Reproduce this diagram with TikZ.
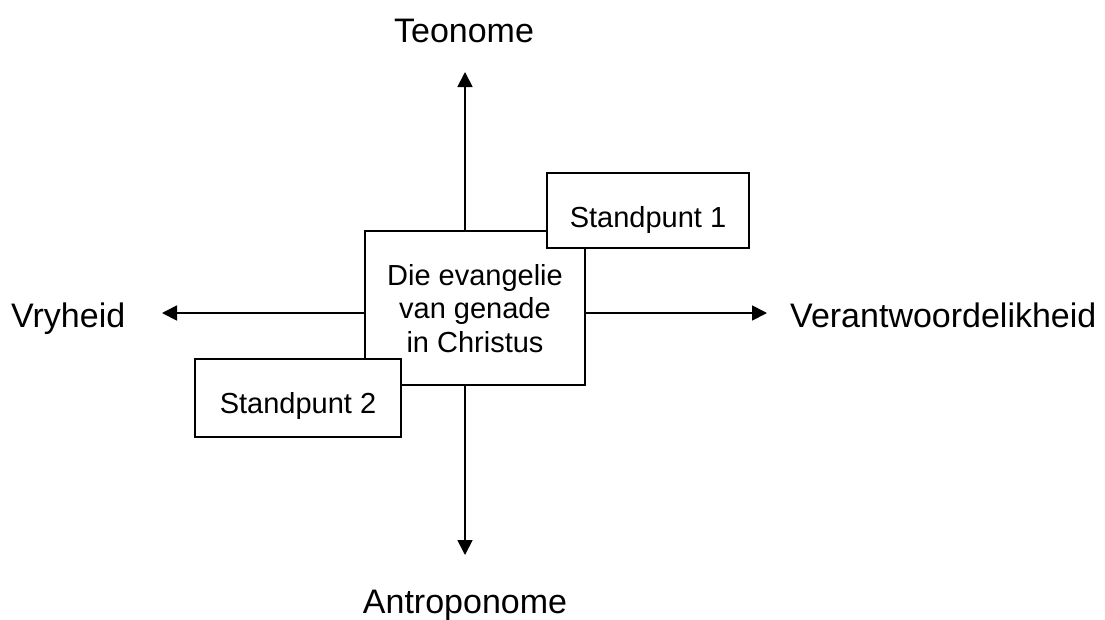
\documentclass[tikz,border=0pt]{standalone}
\usepackage{fontspec}
\setmainfont{Liberation Sans}
\usetikzlibrary{arrows.meta}
\begin{document}
\begin{tikzpicture}[x=1pt,y=-1pt,
  box/.style={draw=black,fill=white,line width=1.8pt,inner sep=0pt,align=center,
    font=\fontsize{29}{33.5}\selectfont},
  axis/.style={line width=1.8pt,-{Triangle[length=15pt,width=15pt]}},
  lbl/.style={inner sep=0pt,font=\fontsize{34}{40}\selectfont}]
\useasboundingbox (0,0) rectangle (1105,619);
% central box
\node[box,minimum width=220pt,minimum height=154pt] (c) at (475,308) {};
\node[inner sep=0pt,align=center,font=\fontsize{29}{33.5}\selectfont,anchor=base] (ct) at (475,352) {Die evangelie\\van genade\\in Christus};
\node[box,minimum width=202pt,minimum height=75pt] (s1) at (648,210.5) {};
\node[inner sep=0pt,font=\fontsize{29}{33.5}\selectfont,anchor=base] (s1t) at (648,227) {Standpunt 1};
\node[box,minimum width=206pt,minimum height=78pt] (s2) at (298,398) {};
\node[inner sep=0pt,font=\fontsize{29}{33.5}\selectfont,anchor=base] (s2t) at (298,413) {Standpunt 2};
% tips
\coordinate (T) at (465,72);
\coordinate (B) at (465,555);
\coordinate (L) at (162,313);
\coordinate (R) at (767,313);
\draw[axis] (c.north -| T) -- (T);
\draw[axis] (c.south -| B) -- (B);
\draw[axis] (c.west |- L) -- (L);
\draw[axis] (c.east |- R) -- (R);
% labels
\node[lbl,anchor=base] (teo) at (464,42) {Teonome};
\node[lbl,anchor=base] (antro) at (465,613) {Antroponome};
\node[lbl,anchor=base west] (vry) at (11,327) {Vryheid};
\node[lbl,anchor=base west] (ver) at (790,327) {Verantwoordelikheid};
\end{tikzpicture}
\end{document}
